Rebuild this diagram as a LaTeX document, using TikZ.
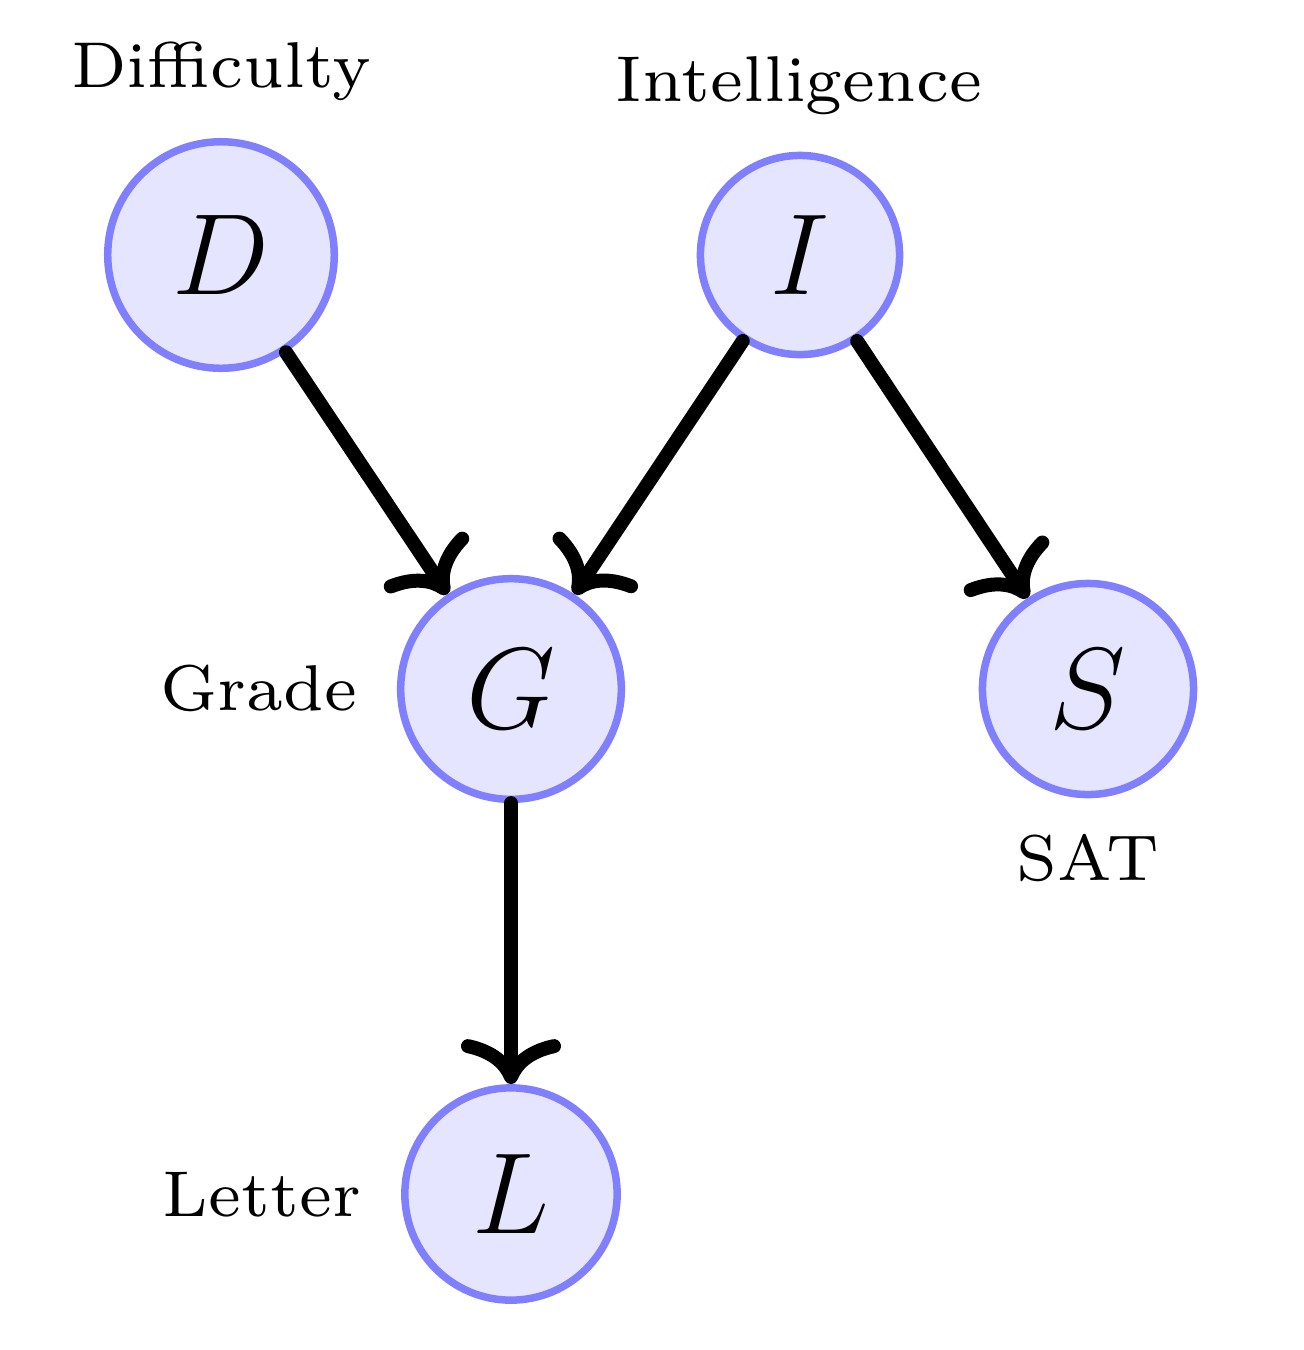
\documentclass[tikz,border=0pt]{standalone}
\usepackage{fix-cm}
\usetikzlibrary{arrows.meta}
\begin{document}
\begin{tikzpicture}[x=0.2pt,y=-0.2pt,
  var/.style={circle,draw=blue!50,fill=blue!10,line width=1.5pt,inner sep=7.2pt,font=\fontsize{23.1}{28}\selectfont},
  lbl/.style={anchor=base,inner sep=0pt},
  edge/.style={line width=2.8pt,line cap=round,-{Computer Modern Rightarrow[length=9pt,width=20pt,line cap=round]}}]
\useasboundingbox (0,0) rectangle (1304,1350);
\newcommand{\lbltext}[1]{\scalebox{1.85}{\fontsize{7}{8}\selectfont #1}}
\node[var] (D) at (221,255) {$D$};
\node[var] (I) at (800,255) {$I$};
\node[var] (G) at (511,689) {$G$};
\node[var] (S) at (1088,689) {$S$};
\node[var] (L) at (511,1194) {$L$};
\node[lbl] (tD) at (221,87) {\lbltext{Difficulty}};
\node[lbl] (tI) at (799,101) {\lbltext{Intelligence}};
\node[lbl] (tG) at (259,710) {\lbltext{Grade}};
\node[lbl] (tS) at (1088,880) {\lbltext{SAT}};
\node[lbl] (tL) at (262,1216) {\lbltext{Letter}};
\draw[edge] (D) -- (G);
\draw[edge] (I) -- (G);
\draw[edge] (I) -- (S);
\draw[edge] (G) -- (L);
\end{tikzpicture}
\end{document}
